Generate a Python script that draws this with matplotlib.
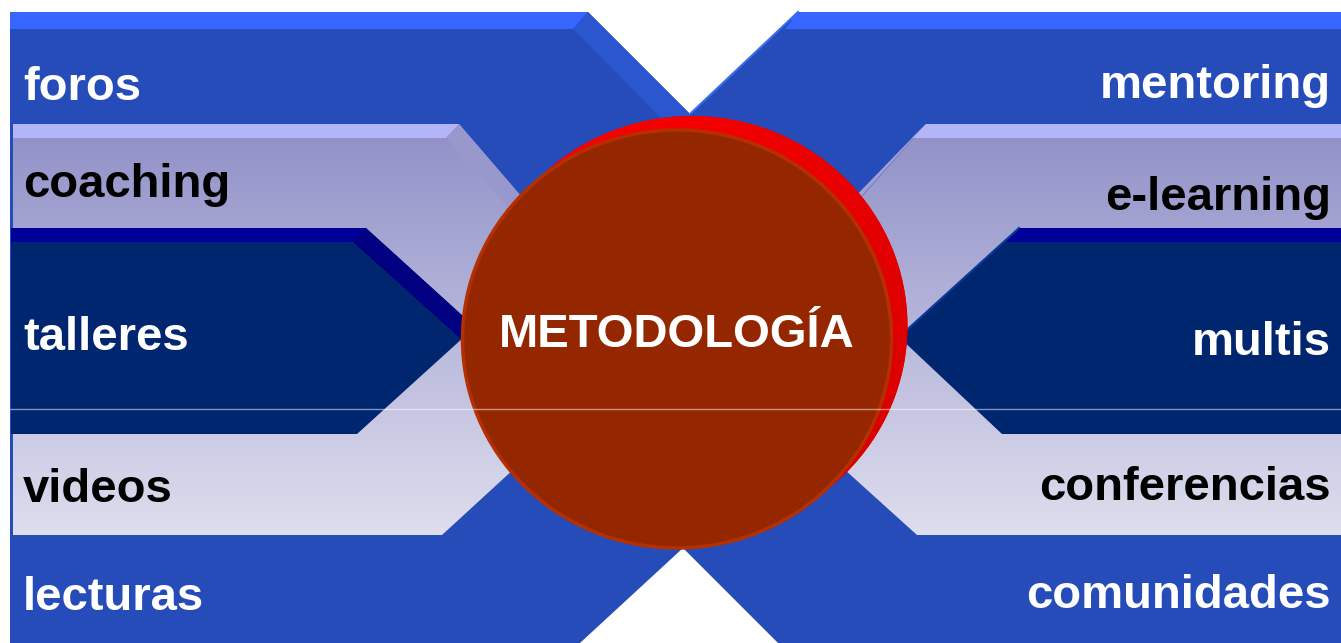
# metodologia.py - diagrama "METODOLOGÍA" con bandas cruzadas
import numpy as np
import matplotlib.pyplot as plt
from matplotlib.patches import Polygon, Ellipse
from matplotlib.colors import to_rgb

W, H = 1341, 643

# etiquetas (izquierda / derecha) y su color de texto
left_labels = ['foros', 'coaching', 'talleres', 'videos', 'lecturas']
right_labels = ['mentoring', 'e-learning', 'multis', 'conferencias', 'comunidades']
label_colors = ['white', 'black', 'white', 'black', 'white']
center_label = 'METODOLOGÍA'

# lineas base de las etiquetas (px desde arriba)
left_base = [100, 197, 350, 502, 610]
right_base = [98, 210, 355, 500, 608]

BLUE, BLUE_TOP, BLUE_DIAG = '#264cba', '#3666ff', '#2c56cf'
LAV_TOP, LAV_A, LAV_B, LAV_DIAG = '#b4b4f8', '#9090c8', '#dedeee', '#9898cd'
NAVY, NAVY_TOP, NAVY_DIAG = '#00266f', '#000099', '#000080'
BROWN, BROWN_RIM = '#942600', '#b53000'

fig = plt.figure(figsize=(W / 100, H / 100), dpi=100)
ax = fig.add_axes([0, 0, 1, 1])
fig.patch.set_facecolor('white')


def poly(pts, color, z, **kw):
    p = Polygon(pts, closed=True, facecolor=color, edgecolor='none', zorder=z, **kw)
    ax.add_patch(p)
    return p


def vgrad(patch, c_top, c_bot, y0, y1, z):
    a, b = np.array(to_rgb(c_top)), np.array(to_rgb(c_bot))
    t = np.linspace(0, 1, 256)[:, None, None]
    img = a * (1 - t) + b * t
    im = ax.imshow(img, extent=(0, W, y1, y0), origin='upper', aspect='auto',
                   zorder=z, interpolation='bilinear')
    im.set_clip_path(patch)


# --- X azul de fondo ---
poly([(10, 12), (588, 12), (690, 114), (798, 12), (W, 12), (W, H),
      (778, H), (683, 548), (580, H), (10, H)], BLUE, 1)
poly([(10, 12), (588, 12), (573, 29), (10, 29)], BLUE_TOP, 1.1)
poly([(798, 12), (W, 12), (W, 29), (785, 29)], BLUE_TOP, 1.1)
poly([(588, 12), (691, 115), (661, 118), (573, 29)], BLUE_DIAG, 1.1)
ax.plot([798, 690], [12, 114], color='#3a6cf0', lw=1.5, zorder=1.2)

# --- X lavanda (con degradado) ---
lav_l = poly([(13, 124), (459, 124), (649, 345), (442, 535), (13, 535)], 'none', 2)
lav_r = poly([(926, 124), (W, 124), (W, 535), (917, 535), (720, 357)], 'none', 2)
vgrad(lav_l, LAV_A, LAV_B, 124, 535, 2)
vgrad(lav_r, LAV_A, LAV_B, 124, 535, 2)
poly([(13, 124), (459, 124), (446, 138), (13, 138)], LAV_TOP, 2.1)
poly([(926, 124), (W, 124), (W, 138), (912, 138)], LAV_TOP, 2.1)
poly([(459, 124), (527, 203), (512, 212), (446, 138)], LAV_DIAG, 2.1)
poly([(926, 124), (860, 198), (846, 206), (912, 138)], '#a0a0d6', 2.1)

# --- X azul marino ---
poly([(11, 228), (366, 228), (475, 327), (357, 434), (11, 434)], NAVY, 3)
poly([(1019, 228), (W, 228), (W, 434), (1002, 434), (899, 337)], NAVY, 3)
poly([(11, 228), (366, 228), (353, 242), (11, 242)], NAVY_TOP, 3.1)
poly([(1019, 228), (W, 228), (W, 242), (1006, 242)], NAVY_TOP, 3.1)
poly([(366, 228), (475, 327), (462, 340), (353, 242)], NAVY_DIAG, 3.1)
ax.plot([1019, 899], [228, 337], color='#0a3a9a', lw=1.5, zorder=3.2)

# --- circulo central ---
red = Ellipse((692, 326), 431, 420, facecolor='#e80000', edgecolor='none', zorder=4)
ax.add_patch(red)
xx = np.linspace(0, 1, 256)
g = (xx[None, :] + xx[:, None]) / 2
img = np.dstack([1.0 - 0.17 * g, np.zeros_like(g), np.zeros_like(g)])
im = ax.imshow(img, extent=(470, 910, 545, 110), origin='upper', aspect='auto',
               zorder=4.05, interpolation='bilinear')
im.set_clip_path(red)
ax.add_patch(Ellipse((677, 339), 429, 418, facecolor=BROWN, edgecolor=BROWN_RIM,
                     lw=2.5, zorder=4.1))

# linea fina horizontal
ax.plot([10, W], [409, 409], color='white', lw=1, alpha=0.5, zorder=6)

# --- textos ---
font = dict(family=['Liberation Sans', 'DejaVu Sans'], fontweight='bold', fontsize=34)
for lab, y, c in zip(left_labels, left_base, label_colors):
    ax.text(23, y, lab, color=c, ha='left', va='baseline', zorder=7, **font)
for lab, y, c in zip(right_labels, right_base, label_colors):
    ax.text(1331, y, lab, color=c, ha='right', va='baseline', zorder=7, **font)
ax.text(677, 347, center_label, color='white', ha='center', va='baseline', zorder=7, **font)

ax.set_xlim(0, W)
ax.set_ylim(H, 0)
ax.axis('off')

fig.savefig('out.png', dpi=100, facecolor='white')
plt.close(fig)
